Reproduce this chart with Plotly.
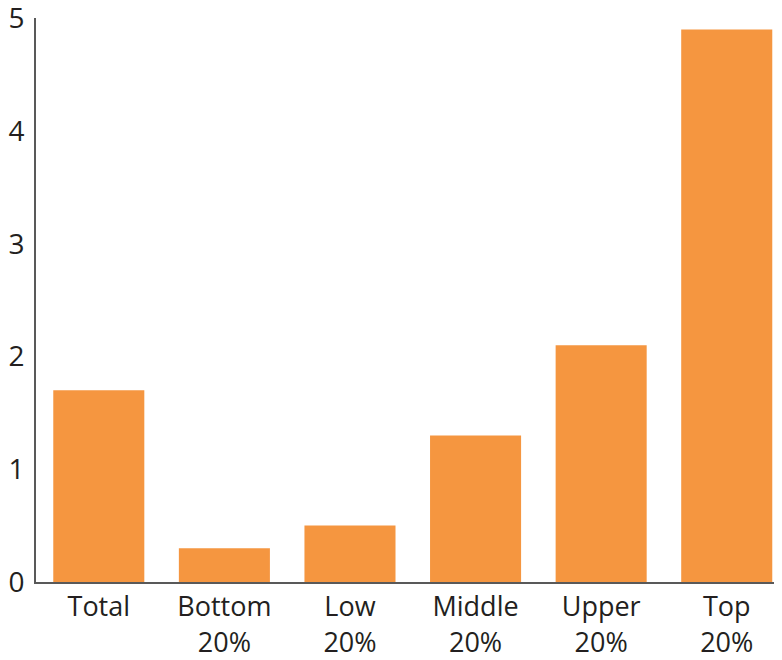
import plotly.graph_objects as go

categories = ["Total", "Bottom<br>20%", "Low<br>20%", "Middle<br>20%", "Upper<br>20%", "Top<br>20%"]
values = [1.7, 0.3, 0.5, 1.3, 2.1, 4.9]
y_ticks = [0, 1, 2, 3, 4, 5]

fig = go.Figure(go.Bar(x=categories, y=values, marker=dict(color="#F59640", line=dict(width=0))))

# page body has an 8px default margin, so the figure is sized/offset to compensate
fig.update_layout(
    width=774, height=652,
    margin=dict(l=28, r=0, t=10, b=78),
    paper_bgcolor="white", plot_bgcolor="white",
    bargap=0.275,
    showlegend=False,
    font=dict(family="Open Sans, Noto Sans, sans-serif", size=28, color="#231f20"),
)
fig.update_xaxes(
    type="category", range=[-0.5, 5.44], automargin=False,
    showline=True, linecolor="#595959", linewidth=2,
    showgrid=False, zeroline=False, ticks="",
    tickfont=dict(size=27), ticklabelstandoff=0, ticklabeloverflow="allow",
)
fig.update_yaxes(
    range=[0, 5.002], tickvals=y_ticks, automargin=False,
    showline=True, linecolor="#595959", linewidth=2,
    showgrid=False, zeroline=False, ticks="",
    tickfont=dict(size=28), ticklabelstandoff=4, ticklabeloverflow="allow",
)
fig.write_html("out.html")
